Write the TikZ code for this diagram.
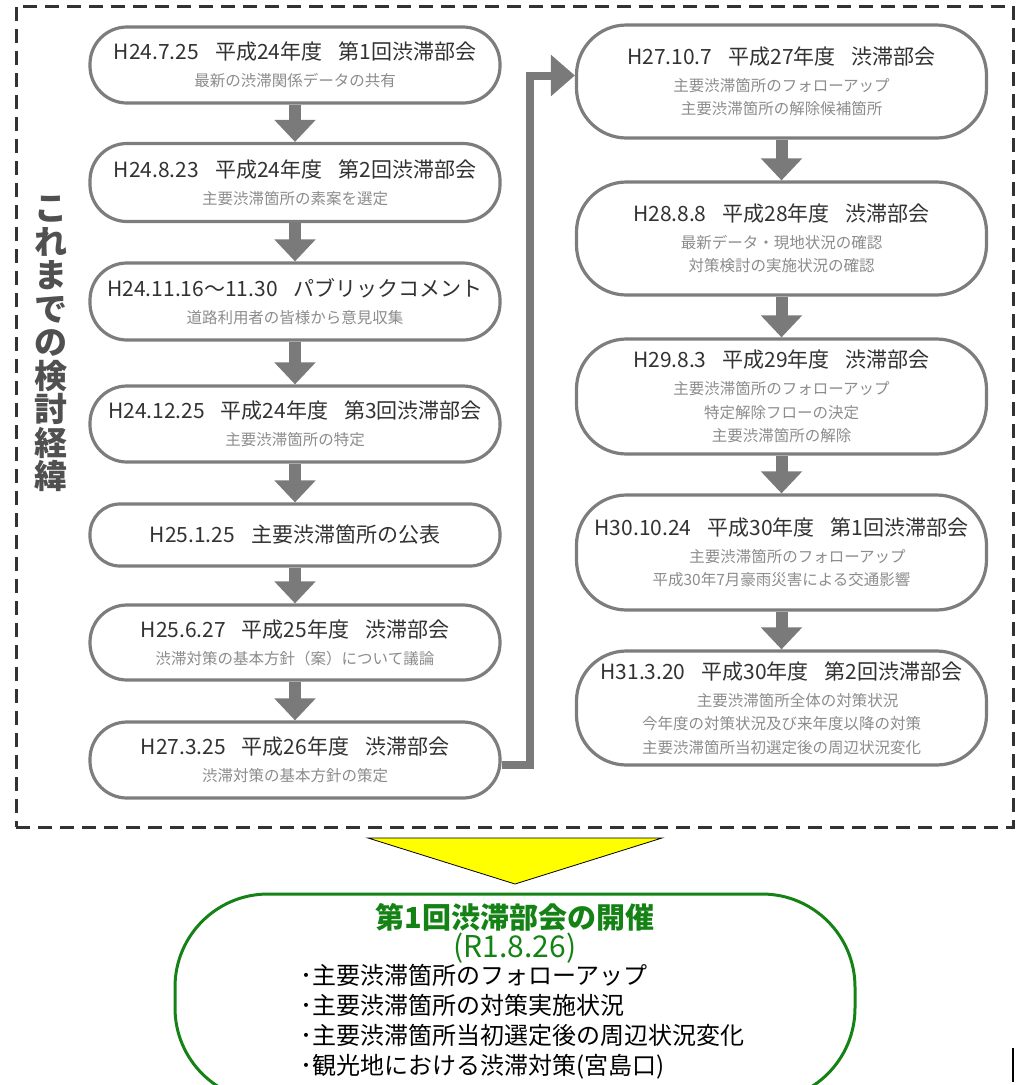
\documentclass[tikz,border=0pt]{standalone}
\usepackage{fontspec}
\setmainfont{Noto Sans CJK JP}
\usetikzlibrary{arrows.meta,calc}
\definecolor{boxline}{RGB}{125,125,125}
\definecolor{arrowgray}{RGB}{122,122,122}
\definecolor{titlegray}{RGB}{50,50,50}
\definecolor{subgray}{RGB}{140,140,140}
\definecolor{vgray}{RGB}{80,80,80}
\definecolor{dashgray}{RGB}{50,50,50}
\definecolor{ggreen}{RGB}{20,130,20}
\definecolor{tyellow}{RGB}{255,255,0}
\newcommand{\evt}[1]{{\fontsize{21}{21}\selectfont\color{titlegray}#1}}
\newcommand{\gp}{\hspace{16pt}}
\begin{document}
\begin{tikzpicture}[x=1pt,y=-1pt,
  evbox/.style={draw=boxline, line width=3.2pt, fill=white, rounded corners=#1,
    minimum width=410pt, inner sep=0pt, align=center, text=subgray,
    font=\fontsize{15.5}{23.5}\selectfont},
  flowarrow/.style={draw=arrowgray, line width=12pt, -{Triangle[width=40pt,length=22pt]}},
  linkarrow/.style={draw=arrowgray, line width=8pt, line join=miter, -{Triangle[width=40pt,length=24pt]}},
  frame/.style={draw=dashgray, line width=3pt, dash pattern=on 14pt off 8pt}
]
\useasboundingbox (0,0) rectangle (1017,1085);
\clip (0,0) rectangle (1017,1085);

% dashed frame
\node[frame, minimum width=997pt, minimum height=821pt, inner sep=0pt] (fr) at (514.5,416.5) {};

% vertical heading
\node[font=\fontsize{33}{33.5}\selectfont\bfseries, text=vgray, align=center, inner sep=0pt] (vtitle) at (51,344)
  {こ\\れ\\ま\\で\\の\\検\\討\\経\\緯};

% left column
\node[evbox=37pt, minimum height=76pt] (b1) at (295,65)
  {\evt{H24.7.25\gp 平成24年度\gp 第1回渋滞部会}\\[3.5pt]最新の渋滞関係データの共有};
\node[evbox=37pt, minimum height=78pt] (b2) at (295,182.5)
  {\evt{H24.8.23\gp 平成24年度\gp 第2回渋滞部会}\\[3.5pt]主要渋滞箇所の素案を選定};
\node[evbox=37pt, minimum height=77pt] (b3) at (295,301.5)
  {\evt{H24.11.16～11.30\gp パブリックコメント}\\[3.5pt]道路利用者の皆様から意見収集};
\node[evbox=37pt, minimum height=76pt] (b4) at (295,424)
  {\evt{H24.12.25\gp 平成24年度\gp 第3回渋滞部会}\\[3.5pt]主要渋滞箇所の特定};
\node[evbox=30pt, minimum height=62pt] (b5) at (295,535)
  {\evt{H25.1.25\gp 主要渋滞箇所の公表}};
\node[evbox=37pt, minimum height=75pt] (b6) at (295,642.5)
  {\evt{H25.6.27\gp 平成25年度\gp 渋滞部会}\\[3.5pt]渋滞対策の基本方針（案）について議論};
\node[evbox=37pt, minimum height=76pt] (b7) at (295,760)
  {\evt{H27.3.25\gp 平成26年度\gp 渋滞部会}\\[3.5pt]渋滞対策の基本方針の策定};

% right column
\node[evbox=50pt, minimum height=113pt] (r1) at (781.5,81.5)
  {\evt{H27.10.7\gp 平成27年度\gp 渋滞部会}\\[3.5pt]主要渋滞箇所のフォローアップ\\主要渋滞箇所の解除候補箇所};
\node[evbox=50pt, minimum height=113pt] (r2) at (781.5,238.5)
  {\evt{H28.8.8\gp 平成28年度\gp 渋滞部会}\\[3.5pt]最新データ・現地状況の確認\\対策検討の実施状況の確認};
\node[evbox=50pt, minimum height=115pt] (r3) at (781.5,396.5)
  {\evt{H29.8.3\gp 平成29年度\gp 渋滞部会}\\[3.5pt]主要渋滞箇所のフォローアップ\\特定解除フローの決定\\主要渋滞箇所の解除};
\node[evbox=50pt, minimum height=115pt] (r4) at (781.5,552.5)
  {\evt{H30.10.24\gp 平成30年度\gp 第1回渋滞部会}\\[3.5pt]\hspace*{32pt}主要渋滞箇所のフォローアップ\\平成30年7月豪雨災害による交通影響};
\node[evbox=50pt, minimum height=114pt] (r5) at (781.5,708)
  {\evt{H31.3.20\gp 平成30年度\gp 第2回渋滞部会}\\[3.5pt]\hspace*{32pt}主要渋滞箇所全体の対策状況\\今年度の対策状況及び来年度以降の対策\\主要渋滞箇所当初選定後の周辺状況変化};

% arrows
\draw[flowarrow] (b1.south) -- (b2.north);
\draw[flowarrow] (b2.south) -- (b3.north);
\draw[flowarrow] (b3.south) -- (b4.north);
\draw[flowarrow] (b4.south) -- (b5.north);
\draw[flowarrow] (b5.south) -- (b6.north);
\draw[flowarrow] (b6.south) -- (b7.north);
\draw[flowarrow] (r1.south) -- (r2.north);
\draw[flowarrow] (r2.south) -- (r3.north);
\draw[flowarrow] (r3.south) -- (r4.north);
\draw[flowarrow] (r4.south) -- (r5.north);

\coordinate (bend) at (530,765);
\draw[linkarrow] ($(b7.east)+(0,5)$) -- (bend) |- ($(r1.west)+(0,-6)$);

% yellow triangle
\draw[fill=tyellow, draw=black, line width=0.8pt] (368,838) -- (662,838) -- (515,884) -- cycle;

% result box
\node[draw=ggreen, line width=3pt, rounded corners=93pt, minimum width=680pt, minimum height=207pt, inner sep=0pt] (res) at (515,997.5) {};
\node[font=\fontsize{29}{29}\selectfont\bfseries, text=ggreen, inner sep=0pt] (gtitle) at (515,917) {第1回渋滞部会の開催};
\node[font=\fontsize{30}{30}\selectfont, text=ggreen, inner sep=0pt] (gdate) at (515,948) {(R1.8.26)};
\node[anchor=west, align=left, font=\fontsize{24}{30}\selectfont, inner sep=0pt] (glist) at (300,1022)
  {･主要渋滞箇所のフォローアップ\\･主要渋滞箇所の対策実施状況\\･主要渋滞箇所当初選定後の周辺状況変化\\･観光地における渋滞対策(宮島口)};

% small mark at bottom right
\draw[line width=2pt] (1013,1048) -- (1013,1082);
\end{tikzpicture}
\end{document}
